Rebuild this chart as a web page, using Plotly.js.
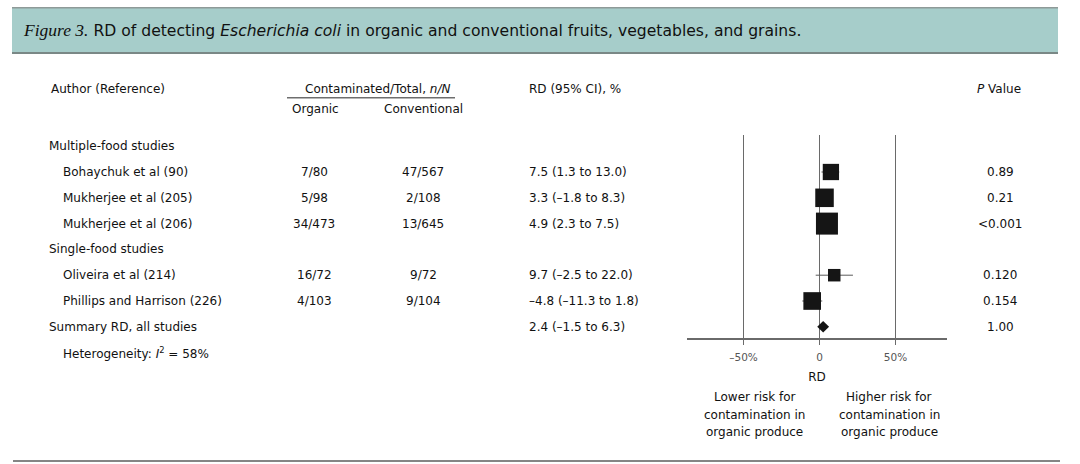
<!DOCTYPE html>
<html>
<head>
<meta charset="utf-8">
<script src="https://cdn.plot.ly/plotly-3.0.1.min.js"></script>
<style>
html,body{margin:0;padding:0;background:#ffffff;}
#chart{width:1080px;height:464px;}
</style>
</head>
<body>
<div id="chart"></div>
<script>
// ---------- data ----------
const studies = ["Bohaychuk et al (90)", "Mukherjee et al (205)", "Mukherjee et al (206)", "Oliveira et al (214)", "Phillips and Harrison (226)"];
const groups = ["Multiple-food studies", "Multiple-food studies", "Multiple-food studies", "Single-food studies", "Single-food studies"];
const organic = ["7/80", "5/98", "34/473", "16/72", "4/103"];
const conventional = ["47/567", "2/108", "13/645", "9/72", "9/104"];
const rd = [7.5, 3.3, 4.9, 9.7, -4.8];
const ciLow = [1.3, -1.8, 2.3, -2.5, -11.3];
const ciHigh = [13.0, 8.3, 7.5, 22.0, 1.8];
const pValues = ["0.89", "0.21", "<0.001", "0.120", "0.154"];
const weights = [17, 22, 31, 10, 20];   // study weights (%)
const summaryLabel = "Summary RD, all studies";
const summaryRd = 2.4;
const summaryLow = -1.5;
const summaryHigh = 6.3;
const summaryP = "1.00";
const heterogeneityI2 = 58;
const tickVals = [-50, 0, 50];
const tickText = ["\u201350%", "0", "50%"];

// ---------- helpers ----------
const W = 1080, H = 464;
const px = x => x / W;
const py = y => 1 - y / H;
const FONT = "DejaVu Sans";
const TXT = "#111111";
const FS = 12;
const fmt = v => (v < 0 ? "\u2013" + Math.abs(v).toFixed(1) : v.toFixed(1));

// rows (group header rows inserted automatically)
const rowY = [];
const headerRows = [];
let r = 0, prev = null;
studies.forEach((s, i) => {
  if (groups[i] !== prev) { headerRows.push({ text: groups[i], y: r }); r++; prev = groups[i]; }
  rowY.push(r); r++;
});
const summaryRow = r;
const hetRow = r + 1;

const rowTop = 146.2, rowStep = 25.8;
const yOfPix = p => (p - rowTop) / rowStep;
const pixOfRow = i => rowTop + rowStep * i;
const axisPix = 338.3, plotTopPix = 135;

// ---------- traces ----------
const ciLines = {
  type: "scatter", mode: "markers",
  x: rd, y: rowY,
  marker: { size: 1, color: "rgba(0,0,0,0)", opacity: 1 },
  error_x: {
    type: "data", symmetric: false,
    array: rd.map((v, i) => ciHigh[i] - v),
    arrayminus: rd.map((v, i) => v - ciLow[i]),
    color: "#5a5a5a", thickness: 1, width: 0
  },
  hoverinfo: "skip", showlegend: false
};
const squares = {
  type: "scatter", mode: "markers",
  x: rd, y: rowY,
  marker: { symbol: "square", color: "#151515", opacity: 1, size: weights.map(w => 3.95 * Math.sqrt(w)), line: { width: 0 } },
  hoverinfo: "skip", showlegend: false, cliponaxis: false
};
const dh = 0.22;
const diamond = {
  type: "scatter", mode: "lines",
  x: [summaryLow, summaryRd, summaryHigh, summaryRd, summaryLow],
  y: [summaryRow, summaryRow - dh, summaryRow, summaryRow + dh, summaryRow],
  fill: "toself", fillcolor: "#141414", line: { width: 0, color: "#141414" },
  hoverinfo: "skip", showlegend: false
};

// ---------- annotations ----------
const ann = [];
function addText(text, x, y, opts) {
  ann.push(Object.assign({
    text: text, x: x, y: y, xref: "paper", yref: "y",
    showarrow: false, xanchor: "left", yanchor: "middle",
    font: { family: FONT, size: FS, color: TXT }
  }, opts || {}));
}
// column headers
addText("Author (Reference)", px(49), py(88.5), { yref: "paper" });
addText("Contaminated/Total, <i>n/N</i>", px(377), py(88.5), { yref: "paper", xanchor: "center" });
addText("Organic", px(315), py(109), { yref: "paper", xanchor: "center" });
addText("Conventional", px(423.5), py(109), { yref: "paper", xanchor: "center" });
addText("RD (95% CI), %", px(527), py(88.5), { yref: "paper" });
addText("<i>P</i> Value", px(999), py(88.5), { yref: "paper", xanchor: "center" });

headerRows.forEach(h => addText(h.text, px(47), h.y));
studies.forEach((s, i) => {
  addText(s, px(61), rowY[i]);
  addText(organic[i], px(314), rowY[i], { xanchor: "center" });
  addText(conventional[i], px(423), rowY[i], { xanchor: "center" });
  addText(`${fmt(rd[i])} (${fmt(ciLow[i])} to ${fmt(ciHigh[i])})`, px(527), rowY[i]);
  addText(pValues[i], px(1000), rowY[i], { xanchor: "center" });
});
addText(summaryLabel, px(47), summaryRow);
addText(`${fmt(summaryRd)} (${fmt(summaryLow)} to ${fmt(summaryHigh)})`, px(527), summaryRow);
addText(summaryP, px(1000), summaryRow, { xanchor: "center" });
addText(`Heterogeneity: <i>I</i><sup>2</sup> = ${heterogeneityI2}%`, px(61), py(pixOfRow(hetRow)), { yref: "paper" });

// direction labels
const lowerLines = ["Lower risk for", "contamination in", "organic produce"];
const higherLines = ["Higher risk for", "contamination in", "organic produce"];
const lineYs = [396.5, 414.5, 432];
lowerLines.forEach((t, i) => addText(t, px(754.5), py(lineYs[i]), { yref: "paper", xanchor: "center" }));
higherLines.forEach((t, i) => addText(t, px(889), py(lineYs[i]), { yref: "paper", xanchor: "center" }));

// ---------- layout ----------
const layout = {
  width: W, height: H,
  margin: { l: 0, r: 0, t: 0, b: 0 },
  paper_bgcolor: "#ffffff", plot_bgcolor: "rgba(0,0,0,0)",
  showlegend: false,
  font: { family: FONT, size: FS, color: TXT },
  title: {
    text: '<span style="font-family:Liberation Serif;font-size:17.5px"><i>Figure 3.</i></span> RD of detecting <i>Escherichia coli</i> in organic and conventional fruits, vegetables, and grains.',
    x: px(24), xanchor: "left", xref: "paper",
    y: py(31), yanchor: "middle", yref: "paper",
    font: { family: FONT, size: 15.6, color: "#111111" }
  },
  xaxis: {
    domain: [px(687), px(947)],
    range: [(687 - 819.5) / 1.52, (947 - 819.5) / 1.52],
    tickvals: tickVals, ticktext: tickText,
    ticks: "outside", ticklen: 5, tickwidth: 1.3, tickcolor: "#6a6a6a",
    ticklabelstandoff: 4,
    showline: true, linecolor: "#6a6a6a", linewidth: 1.3,
    showgrid: true, gridcolor: "#6a6a6a", gridwidth: 1.3,
    zeroline: false, fixedrange: true,
    tickfont: { family: FONT, size: 10.5, color: "#555555" },
    title: { text: "RD", font: { family: FONT, size: 12, color: TXT }, standoff: 10 }
  },
  yaxis: {
    domain: [py(axisPix), py(plotTopPix)],
    range: [yOfPix(axisPix), yOfPix(plotTopPix)],
    visible: false, fixedrange: true
  },
  shapes: [
    { type: "rect", xref: "paper", yref: "paper", x0: px(12), x1: px(1058), y0: py(53.3), y1: py(7.3),
      fillcolor: "#a6cdca", line: { width: 0 }, layer: "below" },
    { type: "line", xref: "paper", yref: "paper", x0: px(12), x1: px(1058), y0: py(7.8), y1: py(7.8),
      line: { color: "#8e9a98", width: 1.5 } },
    { type: "line", xref: "paper", yref: "paper", x0: px(12), x1: px(1058), y0: py(53), y1: py(53),
      line: { color: "#7a8886", width: 2 } },
    { type: "line", xref: "paper", yref: "paper", x0: px(287), x1: px(455), y0: py(97.7), y1: py(97.7),
      line: { color: "#6e6e6e", width: 1.5 } },
    { type: "line", xref: "paper", yref: "paper", x0: px(13), x1: px(1060), y0: py(461), y1: py(461),
      line: { color: "#858585", width: 2 } }
  ],
  annotations: ann
};

Plotly.newPlot("chart", [ciLines, squares, diamond], layout, { displayModeBar: false, staticPlot: true });
</script>
</body>
</html>
